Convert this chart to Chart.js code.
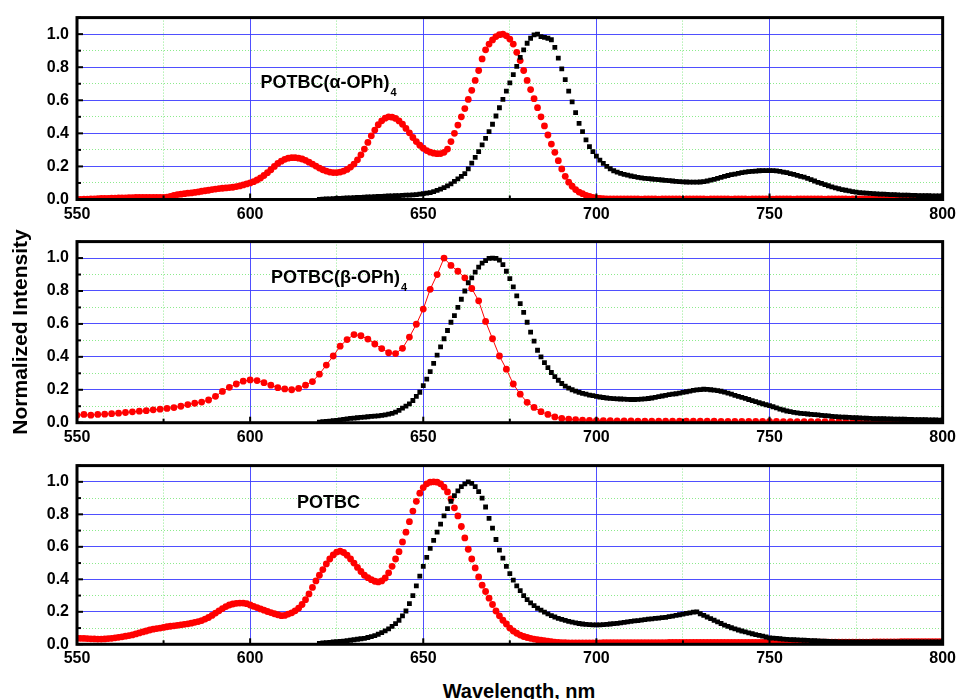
<!DOCTYPE html>
<html>
<head>
<meta charset="utf-8">
<script src="https://cdn.jsdelivr.net/npm/chart.js@4.4.1/dist/chart.umd.min.js"></script>
<style>
  body { margin: 0; background: #fff; width: 961px; height: 699px; overflow: hidden; position: relative;
         font-family: "Liberation Sans", Arial, sans-serif; }
  canvas { position: absolute; left: 0; }
  .title { position: absolute; font-weight: bold; font-size: 20px; line-height: 22px; text-align: center; color: #000; white-space: nowrap; }
  #ytitle { left: -130px; top: 321px; width: 300px; transform: rotate(-90deg); font-size: 21px; }
  #xtitle { left: 419px; top: 680px; width: 200px; }
</style>
</head>
<body>
<canvas id="p1" width="961" height="224" style="top:0px"></canvas>
<canvas id="p2" width="961" height="224" style="top:224px"></canvas>
<canvas id="p3" width="961" height="222" style="top:448px"></canvas>
<div class="title" id="ytitle">Normalized Intensity</div>
<div class="title" id="xtitle">Wavelength, nm</div>
<script>
// wavelength axis (nm)
const xMin = 550, xMax = 800, xStep = 25;
const yMin = 0, yMax = 1.1, yStep = 0.1;

// panel names
const panelNames = ['POTBC(α-OPh)', 'POTBC(β-OPh)', 'POTBC'];
const panelSubs = ['4', '4', ''];
const panelLabelAt = [[603, 0.675], [606, 0.85], [613.5, 0.84]];

// absorption (red circles), 1 nm steps from 550
const absAlphaStart = 550, absAlphaStep = 1;
const absAlpha = [
  0.000,0.001,0.002,0.002,0.003,0.004,0.005,0.006,0.006,0.007,
  0.008,0.008,0.009,0.010,0.010,0.011,0.011,0.012,0.012,0.012,
  0.012,0.012,0.012,0.012,0.013,0.013,0.014,0.018,0.025,0.030,
  0.032,0.035,0.038,0.040,0.043,0.046,0.050,0.053,0.056,0.060,
  0.063,0.066,0.068,0.070,0.072,0.074,0.078,0.082,0.088,0.094,
  0.100,0.108,0.118,0.130,0.145,0.162,0.180,0.200,0.218,0.232,
  0.243,0.250,0.253,0.253,0.250,0.245,0.237,0.226,0.214,0.202,
  0.190,0.180,0.172,0.166,0.163,0.163,0.166,0.172,0.182,0.196,
  0.214,0.240,0.270,0.305,0.345,0.385,0.420,0.452,0.476,0.492,
  0.500,0.498,0.490,0.475,0.455,0.430,0.403,0.375,0.350,0.328,
  0.310,0.296,0.286,0.280,0.277,0.278,0.285,0.305,0.350,0.400,
  0.450,0.500,0.550,0.605,0.660,0.720,0.780,0.850,0.905,0.940,
  0.965,0.985,0.997,1.000,0.990,0.970,0.940,0.890,0.840,0.780,
  0.720,0.665,0.610,0.555,0.500,0.445,0.390,0.335,0.285,0.235,
  0.185,0.140,0.105,0.080,0.060,0.045,0.035,0.025,0.018,0.012,
  0.008,0.006,0.005,0.004,0.004,0.003,0.003,0.003,0.003,0.003,
  0.003,0.003,0.003,0.002,0.003,0.003,0.003,0.003,0.002,0.003,
  0.003,0.003,0.003,0.003,0.003,0.002,0.003,0.003,0.003,0.003,
  0.003,0.003,0.002,0.003,0.003,0.003,0.003,0.003,0.003,0.002,
  0.003,0.003,0.003,0.003,0.002,0.003,0.003,0.003,0.003,0.003,
  0.003,0.002,0.003,0.003,0.003,0.003,0.003,0.002,0.003,0.003,
  0.003,0.003,0.003,0.003,0.003,0.003,0.002,0.003,0.003,0.003,
  0.003,0.003,0.003,0.002,0.003,0.003,0.003,0.003,0.003,0.003,
  0.002,0.003,0.003,0.003,0.003,0.003,0.003,0.003,0.002,0.003,
  0.003,0.003,0.003,0.003,0.003,0.002,0.003,0.003,0.003,0.003,
  0.003
];

// 2 nm steps from 550
const absBetaStart = 550, absBetaStep = 2;
const absBeta = [
  0.045,0.050,0.046,0.050,0.052,0.055,0.058,0.062,0.066,0.070,
  0.073,0.078,0.082,0.087,0.092,0.100,0.110,0.118,0.125,0.138,
  0.160,0.190,0.215,0.235,0.252,0.260,0.256,0.243,0.228,0.213,
  0.205,0.200,0.208,0.228,0.250,0.295,0.350,0.405,0.465,0.505,
  0.535,0.528,0.508,0.478,0.450,0.425,0.420,0.452,0.520,0.598,
  0.690,0.810,0.900,1.000,0.955,0.920,0.880,0.815,0.740,0.615,
  0.510,0.405,0.325,0.235,0.173,0.124,0.093,0.067,0.050,0.035,
  0.026,0.021,0.018,0.016,0.014,0.013,0.012,0.012,0.011,0.011,
  0.011,0.010,0.010,0.010,0.010,0.010,0.009,0.009,0.009,0.009,
  0.009,0.009,0.009,0.008,0.008,0.008,0.008,0.008,0.008,0.008,
  0.008,0.008,0.007,0.007,0.007,0.007,0.007,0.007,0.007,0.007,
  0.007,0.007,0.007,0.007,0.007,0.007,0.007,0.007,0.007,0.007,
  0.007,0.007,0.007,0.007,0.007,0.007
];

// 1 nm steps from 550
const absPlainStart = 550, absPlainStep = 1;
const absPlain = [
  0.038,0.037,0.036,0.035,0.034,0.033,0.032,0.032,0.033,0.035,
  0.037,0.040,0.043,0.046,0.050,0.054,0.058,0.064,0.070,0.076,
  0.082,0.088,0.093,0.097,0.100,0.104,0.108,0.111,0.114,0.117,
  0.120,0.123,0.126,0.130,0.135,0.140,0.146,0.155,0.165,0.178,
  0.192,0.206,0.220,0.232,0.242,0.248,0.252,0.254,0.254,0.250,
  0.242,0.234,0.226,0.218,0.210,0.202,0.195,0.188,0.182,0.176,
  0.178,0.186,0.194,0.206,0.222,0.245,0.275,0.310,0.350,0.390,
  0.425,0.460,0.495,0.525,0.550,0.568,0.573,0.565,0.548,0.525,
  0.500,0.473,0.448,0.425,0.410,0.398,0.388,0.384,0.390,0.408,
  0.440,0.480,0.525,0.570,0.630,0.690,0.755,0.820,0.880,0.930,
  0.965,0.988,0.998,1.000,0.998,0.988,0.968,0.938,0.895,0.840,
  0.790,0.725,0.655,0.585,0.525,0.470,0.415,0.364,0.325,0.284,
  0.245,0.205,0.175,0.148,0.125,0.100,0.082,0.068,0.057,0.048,
  0.042,0.037,0.032,0.028,0.025,0.022,0.019,0.016,0.013,0.011,
  0.010,0.010,0.009,0.009,0.009,0.009,0.009,0.009,0.009,0.009,
  0.009,0.009,0.010,0.010,0.010,0.010,0.010,0.010,0.010,0.010,
  0.010,0.010,0.010,0.010,0.010,0.010,0.010,0.010,0.010,0.010,
  0.010,0.011,0.011,0.011,0.011,0.011,0.011,0.011,0.011,0.011,
  0.011,0.011,0.011,0.011,0.011,0.011,0.011,0.011,0.011,0.011,
  0.011,0.011,0.011,0.011,0.012,0.012,0.012,0.012,0.012,0.012,
  0.012,0.012,0.012,0.012,0.012,0.012,0.012,0.012,0.012,0.012,
  0.013,0.013,0.013,0.013,0.013,0.013,0.013,0.013,0.013,0.013,
  0.014,0.014,0.014,0.014,0.014,0.014,0.014,0.014,0.014,0.014,
  0.015,0.015,0.015,0.015,0.015,0.015,0.015,0.015,0.016,0.016,
  0.016,0.016,0.016,0.016,0.016,0.016,0.016,0.016,0.016,0.016,
  0.016
];

// emission (black squares), 1 nm steps from 620
const emAlphaStart = 620, emAlphaStep = 1;
const emAlpha = [
  0.000,0.002,0.003,0.004,0.005,0.006,0.007,0.008,0.009,0.010,
  0.011,0.012,0.013,0.014,0.015,0.016,0.017,0.018,0.019,0.020,
  0.021,0.022,0.023,0.024,0.025,0.026,0.027,0.028,0.030,0.032,
  0.035,0.038,0.042,0.048,0.055,0.063,0.072,0.082,0.095,0.110,
  0.125,0.140,0.157,0.185,0.220,0.255,0.290,0.330,0.370,0.410,
  0.455,0.505,0.555,0.605,0.655,0.705,0.755,0.805,0.860,0.905,
  0.945,0.975,0.995,1.000,0.985,0.980,0.975,0.966,0.920,0.855,
  0.790,0.725,0.655,0.590,0.525,0.460,0.410,0.360,0.320,0.290,
  0.262,0.238,0.218,0.200,0.186,0.174,0.165,0.158,0.152,0.147,
  0.142,0.138,0.134,0.131,0.128,0.126,0.124,0.122,0.120,0.118,
  0.116,0.114,0.112,0.110,0.108,0.107,0.106,0.105,0.105,0.105,
  0.106,0.108,0.112,0.117,0.122,0.128,0.134,0.140,0.145,0.150,
  0.154,0.158,0.162,0.165,0.168,0.170,0.172,0.174,0.175,0.175,
  0.175,0.175,0.173,0.170,0.166,0.162,0.157,0.152,0.146,0.140,
  0.135,0.128,0.120,0.112,0.104,0.097,0.090,0.083,0.076,0.070,
  0.065,0.060,0.056,0.052,0.048,0.045,0.042,0.040,0.038,0.037,
  0.035,0.034,0.033,0.032,0.031,0.030,0.029,0.028,0.027,0.026,
  0.026,0.025,0.025,0.024,0.024,0.023,0.023,0.022,0.022,0.021,
  0.021
];

const emBetaStart = 620, emBetaStep = 1;
const emBeta = [
  0.004,0.006,0.008,0.010,0.012,0.014,0.017,0.020,0.023,0.026,
  0.028,0.030,0.032,0.034,0.036,0.038,0.040,0.042,0.044,0.047,
  0.052,0.057,0.064,0.075,0.088,0.101,0.114,0.135,0.160,0.185,
  0.225,0.265,0.310,0.360,0.410,0.460,0.510,0.560,0.610,0.650,
  0.700,0.750,0.800,0.850,0.880,0.915,0.945,0.969,0.985,0.998,
  1.000,0.998,0.988,0.960,0.920,0.875,0.825,0.770,0.723,0.670,
  0.610,0.550,0.495,0.440,0.400,0.365,0.335,0.305,0.280,0.258,
  0.238,0.222,0.210,0.200,0.192,0.185,0.178,0.173,0.168,0.164,
  0.160,0.156,0.153,0.150,0.148,0.146,0.145,0.144,0.143,0.142,
  0.141,0.141,0.142,0.143,0.145,0.147,0.150,0.154,0.158,0.162,
  0.166,0.170,0.173,0.176,0.180,0.184,0.188,0.192,0.196,0.199,
  0.201,0.203,0.202,0.200,0.198,0.195,0.191,0.186,0.180,0.173,
  0.166,0.160,0.154,0.148,0.141,0.134,0.128,0.121,0.115,0.109,
  0.104,0.097,0.090,0.083,0.077,0.071,0.067,0.063,0.060,0.057,
  0.055,0.053,0.051,0.049,0.047,0.045,0.043,0.041,0.039,0.037,
  0.035,0.034,0.033,0.032,0.031,0.030,0.029,0.028,0.027,0.026,
  0.025,0.025,0.024,0.024,0.023,0.023,0.022,0.022,0.021,0.021,
  0.020,0.020,0.019,0.019,0.018,0.018,0.017,0.017,0.017,0.016,
  0.016
];

const emPlainStart = 620, emPlainStep = 1;
const emPlain = [
  0.006,0.008,0.010,0.012,0.014,0.016,0.018,0.020,0.022,0.025,
  0.028,0.031,0.034,0.037,0.042,0.047,0.053,0.062,0.072,0.083,
  0.095,0.110,0.127,0.148,0.175,0.205,0.250,0.300,0.360,0.420,
  0.480,0.535,0.590,0.640,0.690,0.740,0.790,0.835,0.880,0.915,
  0.945,0.970,0.988,1.000,0.990,0.970,0.940,0.900,0.845,0.775,
  0.715,0.645,0.580,0.530,0.480,0.435,0.395,0.360,0.330,0.300,
  0.275,0.255,0.238,0.222,0.210,0.198,0.187,0.177,0.168,0.160,
  0.153,0.147,0.141,0.136,0.132,0.128,0.125,0.123,0.121,0.120,
  0.120,0.120,0.121,0.123,0.125,0.127,0.129,0.132,0.135,0.138,
  0.141,0.144,0.146,0.149,0.152,0.155,0.157,0.159,0.161,0.164,
  0.166,0.170,0.174,0.178,0.182,0.186,0.190,0.194,0.198,0.200,
  0.188,0.178,0.168,0.158,0.148,0.138,0.128,0.118,0.110,0.102,
  0.095,0.088,0.082,0.076,0.070,0.065,0.060,0.055,0.050,0.045,
  0.040,0.038,0.036,0.034,0.032,0.030,0.029,0.028,0.027,0.026,
  0.025,0.024,0.023,0.022,0.021,0.020,0.019,0.018,0.017,0.016,
  0.015,0.015,0.015,0.015,0.015,0.015,0.015,0.015,0.015,0.015,
  0.015,0.015,0.015,0.015,0.015,0.015,0.015,0.015,0.015,0.015,
  0.015,0.015,0.015,0.015,0.015,0.015,0.015,0.015,0.015,0.015,
  0.015
];

const FONT = '"Liberation Sans", Arial, sans-serif';
const majorBlue = 'rgba(60,60,255,0.9)';
const minorGreen = 'rgba(120,230,120,0.85)';

function toPoints(start, step, values) {
  return values.map((v, i) => ({ x: start + i * step, y: v }));
}

function isMajorY(v) { return Math.round(v * 10) % 2 === 0; }
function isMajorX(v) { return Math.round(v) % 50 === 0; }

// thick frame, inward ticks and the compound name
const framePlugin = {
  id: 'frame',
  afterDatasetsDraw(chart, args, opts) {
    const { ctx, chartArea: a, scales: { x, y } } = chart;
    ctx.save();
    ctx.strokeStyle = '#000';
    ctx.lineWidth = 2;
    x.ticks.forEach(t => {
      const px = x.getPixelForValue(t.value);
      const len = isMajorX(t.value) ? 6 : 4;
      ctx.beginPath(); ctx.moveTo(px, a.bottom); ctx.lineTo(px, a.bottom - len); ctx.stroke();
    });
    y.ticks.forEach(t => {
      const py = y.getPixelForValue(t.value);
      const len = isMajorY(t.value) ? 6 : 4;
      ctx.beginPath(); ctx.moveTo(a.left, py); ctx.lineTo(a.left + len, py); ctx.stroke();
    });
    ctx.lineWidth = 3;
    ctx.strokeRect(a.left, a.top, a.right - a.left, a.bottom - a.top);

    ctx.fillStyle = '#000';
    ctx.textBaseline = 'alphabetic';
    ctx.font = 'bold 18px ' + FONT;
    const lx = x.getPixelForValue(opts.at[0]);
    const ly = y.getPixelForValue(opts.at[1]);
    ctx.fillText(opts.text, lx, ly);
    if (opts.sub) {
      const w = ctx.measureText(opts.text).width;
      ctx.font = 'bold 11px ' + FONT;
      ctx.fillText(opts.sub, lx + w + 1, ly + 8);
    }
    ctx.restore();
  }
};

function makePanel(id, padTop, axisHeight, absPts, emPts, absLine, idx) {
  return new Chart(document.getElementById(id), {
    type: 'scatter',
    data: {
      datasets: [
        {
          data: emPts,
          pointStyle: 'rect',
          pointRadius: 3.4,
          pointBorderWidth: 0,
          backgroundColor: '#000',
          borderColor: '#000',
          borderWidth: 1,
          showLine: false
        },
        {
          data: absPts,
          pointStyle: 'circle',
          pointRadius: 3.4,
          pointBorderWidth: 0,
          backgroundColor: '#ff0000',
          borderColor: '#ff0000',
          borderWidth: 1,
          showLine: absLine
        }
      ]
    },
    options: {
      responsive: false,
      animation: false,
      layout: { padding: { top: padTop, right: 15, bottom: 0, left: 0 } },
      plugins: {
        legend: { display: false },
        tooltip: { enabled: false },
        frame: { text: panelNames[idx], sub: panelSubs[idx], at: panelLabelAt[idx] }
      },
      scales: {
        x: {
          type: 'linear',
          min: xMin, max: xMax,
          afterFit: s => { s.height = axisHeight; },
          ticks: {
            stepSize: xStep,
            autoSkip: false,
            maxRotation: 0,
            padding: 5,
            color: '#000',
            font: { family: FONT, size: 16, weight: 'bold' },
            callback: v => isMajorX(v) ? String(v) : ''
          },
          grid: {
            drawTicks: false,
            lineWidth: 1,
            color: c => (c.tick && isMajorX(c.tick.value)) ? majorBlue : minorGreen
          },
          border: {
            display: false,
            dash: c => (c.tick && !isMajorX(c.tick.value)) ? [1, 2] : []
          }
        },
        y: {
          min: yMin, max: yMax,
          afterFit: s => { s.width = 77; },
          ticks: {
            stepSize: yStep,
            autoSkip: false,
            padding: 8,
            color: '#000',
            font: { family: FONT, size: 16, weight: 'bold' },
            callback: v => (isMajorY(v) && v < 1.05) ? v.toFixed(1) : ''
          },
          grid: {
            drawTicks: false,
            lineWidth: 1,
            color: c => (c.tick && isMajorY(c.tick.value)) ? majorBlue : minorGreen
          },
          border: {
            display: false,
            dash: c => (c.tick && !isMajorY(c.tick.value)) ? [1, 2] : []
          }
        }
      }
    },
    plugins: [framePlugin]
  });
}

makePanel('p1', 14, 24.5,
  toPoints(absAlphaStart, absAlphaStep, absAlpha),
  toPoints(emAlphaStart, emAlphaStep, emAlpha), false, 0);
makePanel('p2', 12, 25.3,
  toPoints(absBetaStart, absBetaStep, absBeta),
  toPoints(emBetaStart, emBetaStep, emBeta), true, 1);
makePanel('p3', 11.5, 25.7,
  toPoints(absPlainStart, absPlainStep, absPlain),
  toPoints(emPlainStart, emPlainStep, emPlain), false, 2);
</script>
</body>
</html>
